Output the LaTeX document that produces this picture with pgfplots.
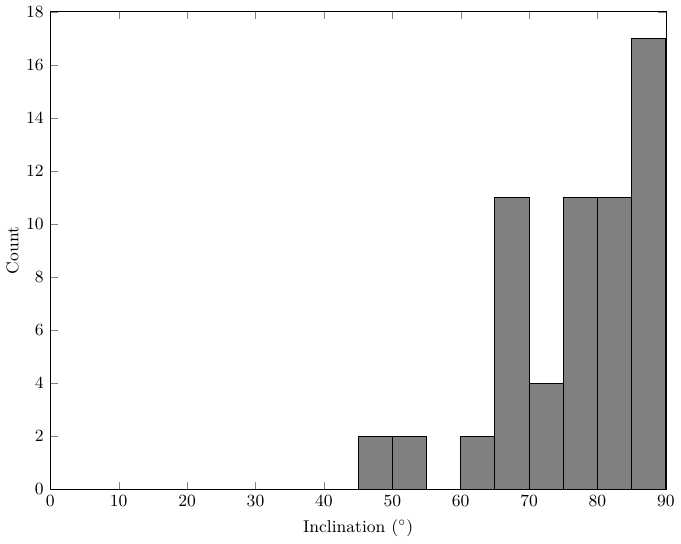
\documentclass[border=0pt]{standalone}
\usepackage{pgfplots}
\pgfplotsset{compat=1.18}
\begin{document}
\begin{tikzpicture}
\begin{axis}[
    scale only axis,
    width=11.4cm, height=8.84cm,
    xmin=0, xmax=90, ymin=0, ymax=18,
    xtick={0,10,...,90}, ytick={0,2,...,18},
    tick align=inside, xtick pos=both, ytick pos=both,
    major tick length=4pt,
    xlabel={Inclination ($^\circ$)},
    ylabel={Count},
    ylabel style={yshift=-3pt},
    tick label style={font=\small},
    label style={font=\small},
    axis line style={black},
]
\addplot[ybar interval, fill=gray, draw=black, line width=0.6pt] coordinates {
    (45,2) (50,2) (55,0) (60,2) (65,11) (70,4) (75,11) (80,11) (85,17) (90,17)
};
\end{axis}
\end{tikzpicture}
\end{document}
